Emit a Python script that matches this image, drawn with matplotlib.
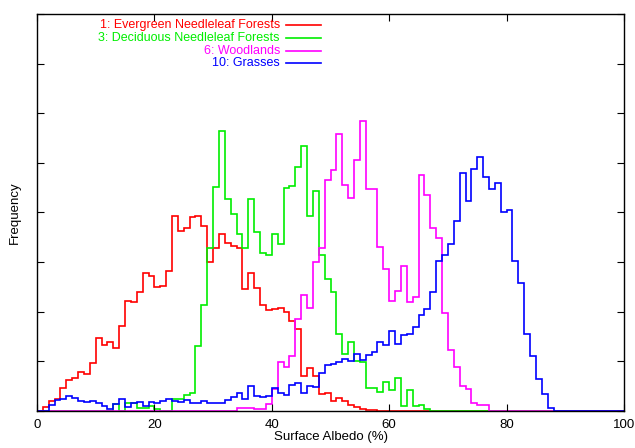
import numpy as np
import matplotlib
matplotlib.use("Agg")
import matplotlib.pyplot as plt
from matplotlib.lines import Line2D

# bin edges: 1% albedo bins from 0 to 100
edges = np.arange(0, 101, 1)

red_vals = [0, 0.087, 0.195, 0.24, 0.46, 0.625, 0.67, 0.79, 0.74, 0.97,
            1.465, 1.32, 1.40, 1.26, 1.72, 2.22, 2.20, 2.40, 2.79, 2.73,
            2.49, 2.52, 2.83, 3.93, 3.62, 3.68, 3.90, 3.92, 3.73, 3.00,
            3.28, 3.57, 3.38, 3.33, 3.28, 2.45, 2.79, 2.47, 2.13, 2.03,
            2.05, 2.08, 2.00, 1.82, 1.66, 0.71, 0.86, 0.71, 0.35, 0.37,
            0.21, 0.26, 0.20, 0.12, 0.09, 0.05, 0.03, 0.02, 0.01, 0.01] + [0] * 40

green_vals = [0] * 13 + [0.14, 0, 0.17, 0.17, 0.07, 0.07, 0.10,
              0.05, 0, 0, 0.24, 0.24, 0.32, 0.37, 1.30, 2.14, 3.28,
              4.52, 5.65, 4.27, 3.97, 3.56, 3.28, 4.27, 3.60, 3.19, 3.15,
              3.56, 3.37, 4.49, 4.54, 4.91, 5.33, 3.93, 4.44, 3.15, 2.66,
              2.39, 1.55, 1.15, 1.40, 1.00, 0.98, 0.46, 0.46, 0.39, 0.59,
              0.42, 0.67, 0.11, 0.42, 0.11, 0.13, 0.04] + [0] * 33

magenta_vals = [0] * 34 + [0.06, 0.06, 0.06, 0.04, 0.04, 0.14,
                0.45, 0.99, 0.89, 1.10, 1.85, 2.33, 2.08, 3.01, 3.29, 4.65,
                4.86, 5.58, 4.55, 4.30, 5.05, 5.85, 4.48, 4.48, 3.31, 2.86,
                2.22, 2.41, 2.93, 2.20, 2.30, 4.76, 4.35, 3.69, 3.48, 1.97,
                1.23, 0.89, 0.51, 0.44, 0.17, 0.13, 0.13] + [0] * 23

blue_vals = [0, 0, 0.12, 0.22, 0.24, 0.31, 0.26, 0.20, 0.175, 0.20,
             0.155, 0.10, 0.05, 0.14, 0.235, 0.087, 0.155, 0.175, 0.10, 0.19,
             0.155, 0.20, 0.235, 0.20, 0.19, 0.22, 0.155, 0.17, 0.20, 0.155,
             0.155, 0.155, 0.22, 0.29, 0.36, 0.24, 0.51, 0.30, 0.28, 0.30,
             0.46, 0.37, 0.32, 0.52, 0.56, 0.37, 0.51, 0.48, 0.76, 0.93,
             0.94, 0.98, 1.04, 1.00, 1.15, 1.03, 1.13, 1.19, 1.40, 1.32,
             1.62, 1.36, 1.54, 1.55, 1.70, 1.94, 2.05, 2.39, 3.03, 3.14,
             3.37, 3.83, 4.80, 4.24, 4.88, 5.11, 4.72, 4.47, 4.59, 4.02,
             4.05, 3.02, 2.57, 1.55, 1.10, 0.65, 0.34, 0.07] + [0] * 12

labels = ["1: Evergreen Needleleaf Forests",
          "3: Deciduous Needleleaf Forests",
          "6: Woodlands",
          "10: Grasses"]
colors = ["#ff0000", "#00ee00", "#ff00ff", "#0000ff"]
series = [red_vals, green_vals, magenta_vals, blue_vals]

xticks = [0, 20, 40, 60, 80, 100]
xlabel = "Surface Albedo (%)"
ylabel = "Frequency"

plt.rcParams['font.family'] = ['Liberation Sans', 'DejaVu Sans']

W, H = 635, 448
fig = plt.figure(figsize=(W / 100, H / 100), dpi=100)
ax_bottom, ax_top, ax_left, ax_right = 411, 14, 37, 624
ax = fig.add_axes([ax_left / W, 1 - ax_bottom / H,
                   (ax_right - ax_left) / W, (ax_bottom - ax_top) / H])

for vals, c in zip(series, colors):
    ax.stairs(np.array(vals, dtype=float), edges, color=c, linewidth=1.2,
              baseline=0)

ax.set_xlim(0, 100)
ax.set_ylim(0, 8)
ax.set_xticks(xticks)
ax.set_xticklabels([str(t) for t in xticks], fontsize=9.5)
ax.set_yticks(np.arange(0, 9, 1))
ax.set_yticklabels([])
ax.tick_params(direction='in', length=5, width=0.8, top=True, right=True,
               pad=6)
for s in ax.spines.values():
    s.set_linewidth(1.0)
    s.set_color('black')

ax.set_xlabel(xlabel, fontsize=9.5, va='center')
ax.xaxis.set_label_coords(0.5, -(437 - ax_bottom) / (ax_bottom - ax_top))
ax.set_ylabel(ylabel, fontsize=9.5, va='center')
ax.yaxis.set_label_coords(-(ax_left - 15) / (ax_right - ax_left), 0.5)

# legend (gnuplot style: right-aligned coloured text followed by sample line)
row_y = [25, 38, 51, 63.5]
for lab, c, y in zip(labels, colors, row_y):
    fig.text(280 / W, 1 - y / H, lab, color=c, ha='right', va='center',
             fontsize=9)
    fig.add_artist(Line2D([286 / W, 321 / W], [1 - y / H, 1 - y / H],
                          color=c, linewidth=1.2))

fig.savefig("out.png", dpi=100)
